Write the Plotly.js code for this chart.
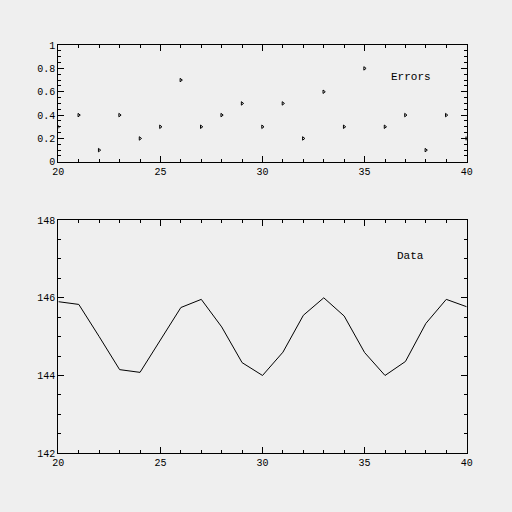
<!DOCTYPE html>
<html>
<head>
<meta charset="utf-8">
<script src="https://cdn.plot.ly/plotly-3.0.1.min.js"></script>
<style>
  html, body { margin: 0; padding: 0; background: #efefef; }
  #chart { width: 512px; height: 512px; }
</style>
</head>
<body>
<div id="chart"></div>
<script>
// values
var xs = [20, 21, 22, 23, 24, 25, 26, 27, 28, 29, 30, 31, 32, 33, 34, 35, 36, 37, 38, 39, 40];
var errors = [0.3, 0.4, 0.1, 0.4, 0.2, 0.3, 0.7, 0.3, 0.4, 0.5, 0.3, 0.5, 0.2, 0.6, 0.3, 0.8, 0.3, 0.4, 0.1, 0.4, 0.2];
var dataVals = [145.9, 145.83, 145.0, 144.15, 144.08, 144.9, 145.75, 145.96, 145.25, 144.33, 144.0,
                144.6, 145.55, 146.0, 145.53, 144.59, 144.0, 144.36, 145.34, 145.96, 145.77];

var tickFont = { family: 'Liberation Mono, DejaVu Sans Mono, monospace', size: 10, color: '#000' };

function axisStyle(extra) {
  var a = {
    showline: true,
    linecolor: '#000',
    linewidth: 1,
    mirror: 'ticks',
    ticks: 'inside',
    ticklen: 6,
    tickcolor: '#000',
    tickfont: tickFont,
    showgrid: false,
    zeroline: false,
    fixedrange: true
  };
  for (var k in extra) a[k] = extra[k];
  return a;
}

var traces = [
  {
    x: xs, y: errors,
    xaxis: 'x', yaxis: 'y',
    mode: 'markers',
    marker: { symbol: 'triangle-right-open', size: 3, color: '#000', line: { color: '#000', width: 1 } },
    cliponaxis: true,
    hoverinfo: 'skip'
  },
  {
    x: xs, y: dataVals,
    xaxis: 'x2', yaxis: 'y2',
    mode: 'lines',
    line: { color: '#000', width: 1 },
    hoverinfo: 'skip'
  }
];

var layout = {
  width: 512,
  height: 512,
  showlegend: false,
  paper_bgcolor: '#efefef',
  plot_bgcolor: '#efefef',
  margin: { l: 0, r: 0, t: 0, b: 0 },
  xaxis: axisStyle({
    domain: [0.114, 0.9115], anchor: 'y', range: [20, 40], dtick: 5, tick0: 20,
    minor: { dtick: 1, ticklen: 3, ticks: 'inside', tickcolor: '#000' }
  }),
  yaxis: axisStyle({
    domain: [0.684, 0.912], anchor: 'x', range: [0, 1], dtick: 0.2, tick0: 0,
    minor: { dtick: 0.05, ticklen: 3, ticks: 'inside', tickcolor: '#000' }
  }),
  xaxis2: axisStyle({
    domain: [0.114, 0.9115], anchor: 'y2', range: [20, 40], dtick: 5, tick0: 20,
    minor: { dtick: 1, ticklen: 3, ticks: 'inside', tickcolor: '#000' }
  }),
  yaxis2: axisStyle({
    domain: [0.115, 0.570], anchor: 'x2', range: [142, 148], dtick: 2, tick0: 142,
    minor: { dtick: 0.5, ticklen: 3, ticks: 'inside', tickcolor: '#000' }
  }),
  annotations: [
    { text: 'Errors', xref: 'x', yref: 'y', x: 36.2, y: 0.73, showarrow: false,
      xanchor: 'left', font: { family: 'Liberation Mono, monospace', size: 11, color: '#000' } },
    { text: 'Data', xref: 'x2', yref: 'y2', x: 36.5, y: 147.07, showarrow: false,
      xanchor: 'left', font: { family: 'Liberation Mono, monospace', size: 11, color: '#000' } }
  ]
};

Plotly.newPlot('chart', traces, layout, { displayModeBar: false, staticPlot: true });
</script>
</body>
</html>
